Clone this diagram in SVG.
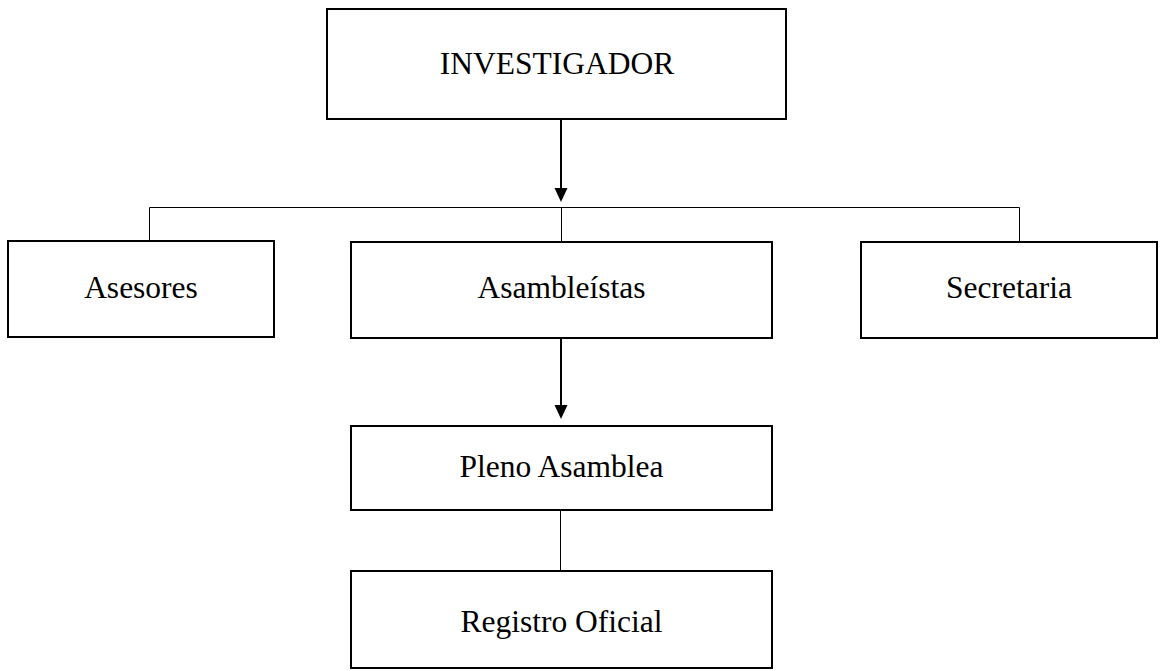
<svg xmlns="http://www.w3.org/2000/svg" width="1160" height="671" viewBox="0 0 1160 671">
<style>
.box{fill:#fff;stroke:#000;stroke-width:2}
.lbl{font-family:"Liberation Serif","Times New Roman",serif;font-size:31.5px;fill:#000;text-anchor:middle}
.thin{stroke:#000;stroke-width:1;fill:none}
.arr{stroke:#000;stroke-width:2;fill:none}
</style>
<rect width="1160" height="671" fill="#fff"/>
<g id="connectors">
<line class="arr" x1="561" y1="119" x2="561" y2="188"/>
<path d="M554.5,188 L567.5,188 L561,202 Z" fill="#000"/>
<polyline class="thin" points="149.5,241 149.5,207.5 1019.5,207.5 1019.5,242"/>
<line class="thin" x1="561.5" y1="207.5" x2="561.5" y2="242"/>
<line class="arr" x1="561" y1="338" x2="561" y2="405"/>
<path d="M554.5,405 L567.5,405 L561,419 Z" fill="#000"/>
<line class="thin" x1="560.5" y1="510" x2="560.5" y2="571"/>
</g>
<g id="investigador">
<rect class="box" x="327" y="9" width="459" height="110"/>
<text class="lbl" x="557" y="74">INVESTIGADOR</text>
</g>
<g id="asesores">
<rect class="box" x="8" y="241" width="266" height="96"/>
<text class="lbl" x="141" y="298">Asesores</text>
</g>
<g id="asambleistas">
<rect class="box" x="351" y="242" width="421" height="96"/>
<text class="lbl" x="561.5" y="298">Asambleístas</text>
</g>
<g id="secretaria">
<rect class="box" x="861" y="242" width="296" height="96"/>
<text class="lbl" x="1009" y="298">Secretaria</text>
</g>
<g id="pleno">
<rect class="box" x="351" y="426" width="421" height="84"/>
<text class="lbl" x="561.5" y="477">Pleno Asamblea</text>
</g>
<g id="registro">
<rect class="box" x="351" y="571" width="421" height="97"/>
<text class="lbl" x="561.5" y="632">Registro Oficial</text>
</g>
</svg>
